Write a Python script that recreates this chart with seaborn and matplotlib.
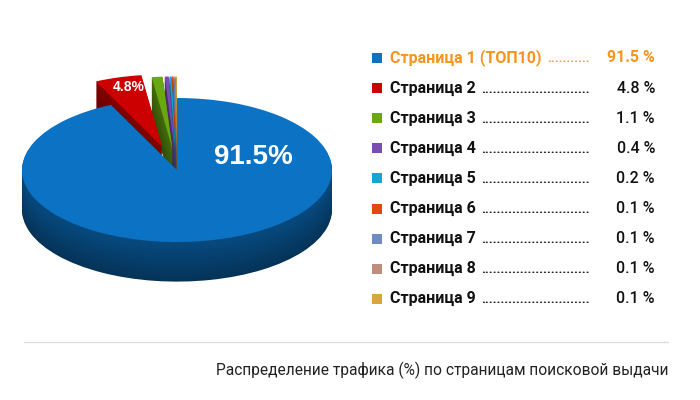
import matplotlib
matplotlib.use("Agg")
import matplotlib.pyplot as plt
import matplotlib.colors as mcolors
import seaborn as sns

# data
pages = ["Страница 1 (ТОП10)", "Страница 2", "Страница 3", "Страница 4", "Страница 5",
         "Страница 6", "Страница 7", "Страница 8", "Страница 9"]
shares = [91.5, 4.8, 1.1, 0.4, 0.2, 0.1, 0.1, 0.1, 0.1]
share_labels = ["91.5 %", "4.8 %", "1.1 %", "0.4 %", "0.2 %", "0.1 %", "0.1 %", "0.1 %", "0.1 %"]
colors = ["#0b72c4", "#cc0000", "#6aa812", "#7a4db3", "#12a8d6",
          "#e5480c", "#6f8bc4", "#c08c7c", "#d6a73a"]
explode = [0, 0.34, 0.3, 0.3, 0.3, 0.3, 0.3, 0.3, 0.3]
caption = "Распределение трафика (%) по страницам поисковой выдачи"

sns.set_theme(style="white")
plt.rcParams['font.family'] = ['Roboto', 'DejaVu Sans']


def darken(c, f):
    r, g, b = mcolors.to_rgb(c)
    return (r * f, g * f, b * f)


fig = plt.figure(figsize=(7, 4), dpi=100)
fig.patch.set_facecolor("white")

# pie axes: radius 1 -> 155 px wide, 72 px tall, centre at (177, 170) px
ax = fig.add_axes([0, 0, 1, 1])
depth = 0.55
n_layers = 40
for k in range(n_layers, 0, -1):
    shade = 0.45 + 0.2 * (1 - k / n_layers)
    ax.pie(shares, colors=[darken(c, shade) for c in colors], explode=explode,
           startangle=90, counterclock=False, center=(0, -depth * k / n_layers),
           wedgeprops=dict(linewidth=0))
ax.pie(shares, colors=colors, explode=explode, startangle=90, counterclock=False,
       center=(0, 0), wedgeprops=dict(linewidth=0))
ax.set_aspect('auto')
ax.set_xlim(-177 / 155, (700 - 177) / 155)
ax.set_ylim(-(400 - 170) / 72, 170 / 72)
ax.axis('off')

# overlay in pixel coordinates
ax2 = fig.add_axes([0, 0, 1, 1])
ax2.set_xlim(0, 700)
ax2.set_ylim(400, 0)
ax2.axis('off')

ax2.text(253, 157, "91.5%", color="white", fontsize=20, fontweight="bold",
         family=["Liberation Sans", "DejaVu Sans"], ha="center", va="center")
ax2.text(129, 87, "4.8%", color="white", fontsize=10, fontweight="bold",
         family=["Liberation Sans", "DejaVu Sans"], ha="center", va="center")

# legend
fs = 11.5
labels = []
for i, (p, v, c) in enumerate(zip(pages, share_labels, colors)):
    y = 58 + 30.1 * i
    tc = "#f7941d" if i == 0 else "#111111"
    ax2.scatter([377], [y], marker="s", s=60, color=c, linewidths=0)
    t = ax2.text(390, y, p, ha="left", va="center", color=tc, fontsize=fs,
                 fontweight="bold")
    labels.append((t, y, tc))
    ax2.text(655, y, v, ha="right", va="center", color=tc, fontsize=fs,
             fontweight="bold" if i == 0 else "medium")

# dotted leaders from end of label to x = 590
fig.canvas.draw()
r = fig.canvas.get_renderer()
dot_fs = 9.5
probe = ax2.text(0, 0, "." * 20, fontsize=dot_fs, fontweight="bold")
dot_w = probe.get_window_extent(r).width / 20
probe.remove()
for t, y, tc in labels:
    x_end = t.get_window_extent(r).x1 + 3
    n = int((590 - x_end) / dot_w)
    ax2.text(590, y + 4.5, "." * n, ha="right", va="baseline", color=tc,
             fontsize=dot_fs, fontweight="bold")

ax2.plot([24, 668], [342, 342], color="#dddddd", linewidth=1)
ax2.text(668, 370, caption, ha="right", va="center", color="#222222",
         fontsize=11.2)

fig.savefig("out.png", dpi=100, facecolor="white")
